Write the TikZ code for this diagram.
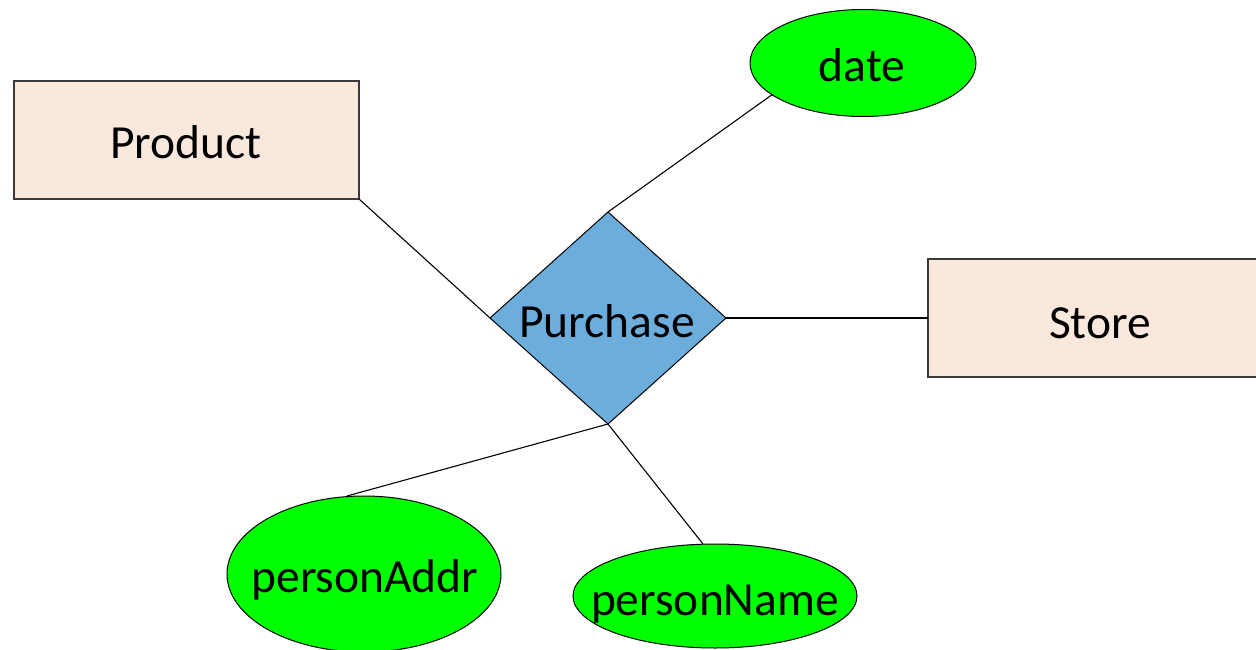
\documentclass[tikz,border=0pt]{standalone}
\usepackage{fontspec}
\setmainfont{Carlito}
\usetikzlibrary{shapes.geometric}
\definecolor{peach}{HTML}{FBE8DD}
\definecolor{relblue}{HTML}{6DADDC}
\definecolor{attrgreen}{HTML}{00FF00}
\definecolor{rectline}{HTML}{3A3A3A}
\tikzset{
  entity/.style={draw=rectline, line width=1.3pt, fill=peach, rectangle, inner sep=0pt, outer sep=0pt},
  relation/.style={draw=black, line width=1pt, fill=relblue, diamond, inner sep=0pt, outer sep=0pt, minimum width=236pt, minimum height=212pt},
  attr/.style={draw=black, line width=1pt, fill=attrgreen, ellipse, inner sep=0pt, outer sep=0pt},
  lbl/.style={anchor=base, inner sep=0pt, font=\fontsize{47.5}{52}\selectfont},
  conn/.style={draw=black, line width=1.1pt}
}
\begin{document}
\begin{tikzpicture}[x=1pt,y=-1pt]
\useasboundingbox (0,0) rectangle (1256,650);
\clip (0,0) rectangle (1256,650);
% shapes
\node[entity, minimum width=345pt, minimum height=118pt] (product) at (186.5,140) {};
\node[entity, minimum width=336pt, minimum height=118pt] (store) at (1096,318) {};
\node[relation] (purchase) at (608,318) {};
\node[attr, minimum width=226pt, minimum height=107pt] (date) at (863,63) {};
\node[attr, minimum width=274pt, minimum height=156pt] (addr) at (364,574) {};
\node[attr, minimum width=284pt, minimum height=104pt] (pname) at (715,596) {};
% connector end points on the attributes
\coordinate (dateA) at (773,94);
\coordinate (addrA) at (347,496);
\coordinate (pnameA) at (703,544);
% connectors
\draw[conn] (product.south east) -- (purchase.west);
\draw[conn] (purchase.east) -- (store.west);
\draw[conn] (purchase.north) -- (dateA);
\draw[conn] (purchase.south) -- (addrA);
\draw[conn] (purchase.south) -- (pnameA);
% labels
\node[lbl] (productT) at (186,159) {Product};
\node[lbl] (storeT) at (1100,338) {Store};
\node[lbl] (purchaseT) at (607,337) {Purchase};
\node[lbl] (dateT) at (862,82) {date};
\node[lbl] (addrT) at (365,592) {personAddr};
\node[lbl] (pnameT) at (715,615) {personName};
\end{tikzpicture}
\end{document}
